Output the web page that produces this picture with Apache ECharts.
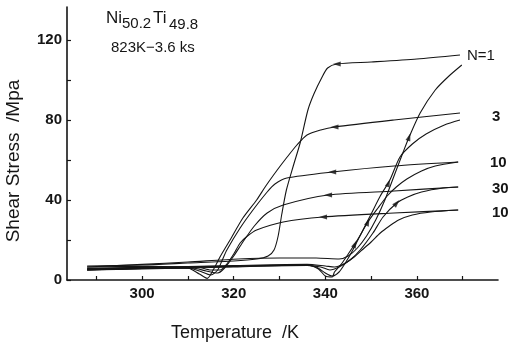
<!DOCTYPE html>
<html>
<head>
<meta charset="utf-8">
<script src="https://cdn.jsdelivr.net/npm/echarts@6/dist/echarts.min.js"></script>
<style>
  html, body { margin: 0; padding: 0; background: #fff; }
  #chart { width: 508px; height: 345px; }
</style>
</head>
<body>
<div id="chart"></div>
<script>
// Ni50.2Ti49.8 shear stress vs temperature, thermal cycles N
const xTicks = [290, 300, 310, 320, 330, 340, 350, 360, 370];
const xLabels = [300, 320, 340, 360];
const yTicks = [0, 20, 40, 60, 80, 100, 120];
const yLabels = [0, 40, 80, 120];
const cycles = ['N=1', '3', '10', '30', '100'];

// heating branches [T (K), stress (MPa)]
const heatN1 = [[288, 6.5], [300, 7.8], [310, 9], [321, 10.5], [330, 11], [338, 11], [343, 10.5], [345, 12], [347, 16], [349, 22], [351, 30], [353, 40], [355, 52], [357, 64], [358.3, 71.5], [360.7, 83.5], [364, 95], [367, 102], [369.8, 107.5]];
const heatN3 = [[288, 5.5], [300, 6.2], [320, 7], [335, 7.5], [338, 6.5], [340, 3.5], [341.5, 2], [343, 4], [344.5, 9], [346, 15], [348, 24], [350, 33], [352, 42], [354.1, 50], [356.3, 61.5], [359, 68], [362, 73], [366, 77.5], [369.4, 80]];
const heatN10 = [[288, 5], [300, 5.5], [320, 6.5], [336, 7.5], [338.5, 5.5], [340, 2], [341.5, 1.5], [342, 4], [343.5, 8], [345, 13], [347, 20], [349.3, 29], [351.5, 36], [353.5, 42], [355.5, 46.5], [357.8, 50.5], [361, 54.5], [364, 57], [369, 59]];
const heatN30 = [[288, 5.2], [300, 5.8], [320, 6.8], [336, 7.3], [339, 6.5], [341, 5], [343, 6.5], [345.4, 10], [347.6, 15], [350.4, 23.5], [352.6, 31.5], [355.6, 38.5], [358, 41.5], [361, 44], [365.7, 46], [369, 46.5]];
const heatN100 = [[288, 5.8], [300, 6.3], [320, 7.2], [336, 7.8], [340, 7], [342, 6.5], [344, 8], [346, 11], [348, 15], [350, 19], [352, 23.5], [354, 27], [356, 30], [359, 32.5], [363, 34], [369, 35]];

// cooling branches
const coolN1 = [[288, 7], [300, 7.5], [310, 8.5], [320, 9.5], [325, 10.5], [327.5, 12], [328.8, 15], [329.7, 22], [330.5, 33], [331.5, 45], [333, 57], [334.5, 68.5], [336.2, 85], [337.5, 93], [339.3, 101.5], [340.5, 106], [342.5, 108], [350, 109], [360, 110.5], [369.4, 112.5]];
const coolN3 = [[288, 6.5], [300, 6.8], [310, 6], [312.5, 3], [314.2, 0.8], [315.5, 5], [317, 11.5], [319.2, 20], [322, 31], [325, 40], [327, 47], [329.5, 55], [331.5, 61], [333.8, 67.5], [336, 72.5], [339, 75], [342, 76.5], [355, 80], [369.4, 83.5]];
const coolN10 = [[288, 5.5], [300, 6], [310, 6], [312.5, 4.5], [315, 2.5], [316.5, 5], [317.5, 10], [318.5, 15], [321.4, 26], [324.2, 35], [327.3, 44], [329, 48], [331.6, 51], [341.5, 54], [355, 57], [369, 59]];
const coolN30 = [[288, 5], [300, 5.8], [311, 6], [314, 4.5], [316.5, 3.5], [318, 6], [320, 12], [322, 19], [324.5, 27], [327.3, 33.5], [330.8, 37.5], [340.6, 42.5], [355, 44.5], [369, 46.5]];
const coolN100 = [[288, 5], [300, 6], [312, 6.5], [315, 5], [317, 5], [318.5, 8], [320, 13], [321.4, 18.5], [323, 22], [325, 25], [330.8, 29], [339.5, 31.5], [355, 33.5], [369, 35]];

// arrow heads drawn on the curves
const coolArrows = [[342.5, 108], [342, 76.5], [341.5, 54], [340.6, 42.5], [339.5, 31.5]];
const heatArrows = [[358.3, 71.5], [353.8, 48.5], [349.3, 29], [346.5, 18], [355.6, 38.5]];
const heatArrowTilt = [-18, -20, -22, -25, -42];

const ink = '#151515';
const numFont = "'Liberation Sans', Arial, sans-serif";
const textFont = "'Liberation Sans', Arial, sans-serif";

const chart = echarts.init(document.getElementById('chart'));

const branches = [heatN1, heatN3, heatN10, heatN30, heatN100, coolN1, coolN3, coolN10, coolN30, coolN100];

const series = branches.map(d => ({
  type: 'line',
  data: d,
  smooth: 0.25,
  showSymbol: false,
  lineStyle: { color: ink, width: 1.1 },
  silent: true
}));

series.push({
  type: 'scatter',
  data: coolArrows,
  symbol: 'triangle',
  symbolSize: [5, 8],
  symbolRotate: 90,
  itemStyle: { color: ink }
});
series.push({
  type: 'scatter',
  data: heatArrows.map((p, i) => ({ value: p, symbolRotate: heatArrowTilt[i] })),
  symbol: 'triangle',
  symbolSize: [5, 8],
  itemStyle: { color: ink }
});

const labelY = [56, 117, 163, 189, 213];
const labelX = [467, 492, 490, 492, 492];

const option = {
  animation: false,
  backgroundColor: '#fff',
  grid: { left: 67, right: 10, top: 7, bottom: 65 },
  xAxis: {
    type: 'value',
    min: 283.6,
    max: 377.7,
    splitLine: { show: false },
    axisLine: { lineStyle: { color: ink, width: 1.6 } },
    axisTick: { inside: true, length: 4, customValues: xTicks, lineStyle: { color: ink, width: 1.2 } },
    axisLabel: {
      customValues: xLabels,
      margin: 6,
      color: ink,
      fontFamily: numFont,
      fontWeight: 'bold',
      fontSize: 15
    }
  },
  yAxis: {
    type: 'value',
    min: 0,
    max: 136.5,
    splitLine: { show: false },
    axisLine: { lineStyle: { color: ink, width: 1.6 } },
    axisTick: { inside: true, length: 4, customValues: yTicks, lineStyle: { color: ink, width: 1.2 } },
    axisLabel: {
      customValues: yLabels,
      margin: 5,
      color: ink,
      fontFamily: numFont,
      fontWeight: 'bold',
      fontSize: 15
    }
  },
  graphic: [
    { type: 'text', x: 106, y: 18.5, style: { text: 'Ni', font: `17px ${textFont}`, fill: ink, verticalAlign: 'middle' } },
    { type: 'text', x: 122, y: 24, style: { text: '50.2', font: `15px ${textFont}`, fill: ink, verticalAlign: 'middle' } },
    { type: 'text', x: 153, y: 18.5, style: { text: 'Ti', font: `17px ${textFont}`, fill: ink, verticalAlign: 'middle' } },
    { type: 'text', x: 169, y: 25, style: { text: '49.8', font: `15px ${textFont}`, fill: ink, verticalAlign: 'middle' } },
    { type: 'text', x: 111, y: 47.5, style: { text: '823K\u22123.6 ks', font: `15px ${textFont}`, fill: ink, verticalAlign: 'middle' } },
    {
      type: 'text', x: 14, y: 161, rotation: Math.PI / 2,
      style: { text: 'Shear Stress  /Mpa', font: `19px ${textFont}`, fill: ink, align: 'center', verticalAlign: 'middle' }
    },
    {
      type: 'text', x: 235, y: 333,
      style: { text: 'Temperature  /K', font: `18px ${textFont}`, fill: ink, align: 'center', verticalAlign: 'middle' }
    },
    ...cycles.map((c, i) => ({
      type: 'text', x: labelX[i], y: labelY[i],
      style: {
        text: c,
        font: i === 0 ? `15px ${textFont}` : `bold 15px ${numFont}`,
        fill: ink,
        verticalAlign: 'middle'
      }
    }))
  ],
  series: series
};

chart.setOption(option);
</script>
</body>
</html>
